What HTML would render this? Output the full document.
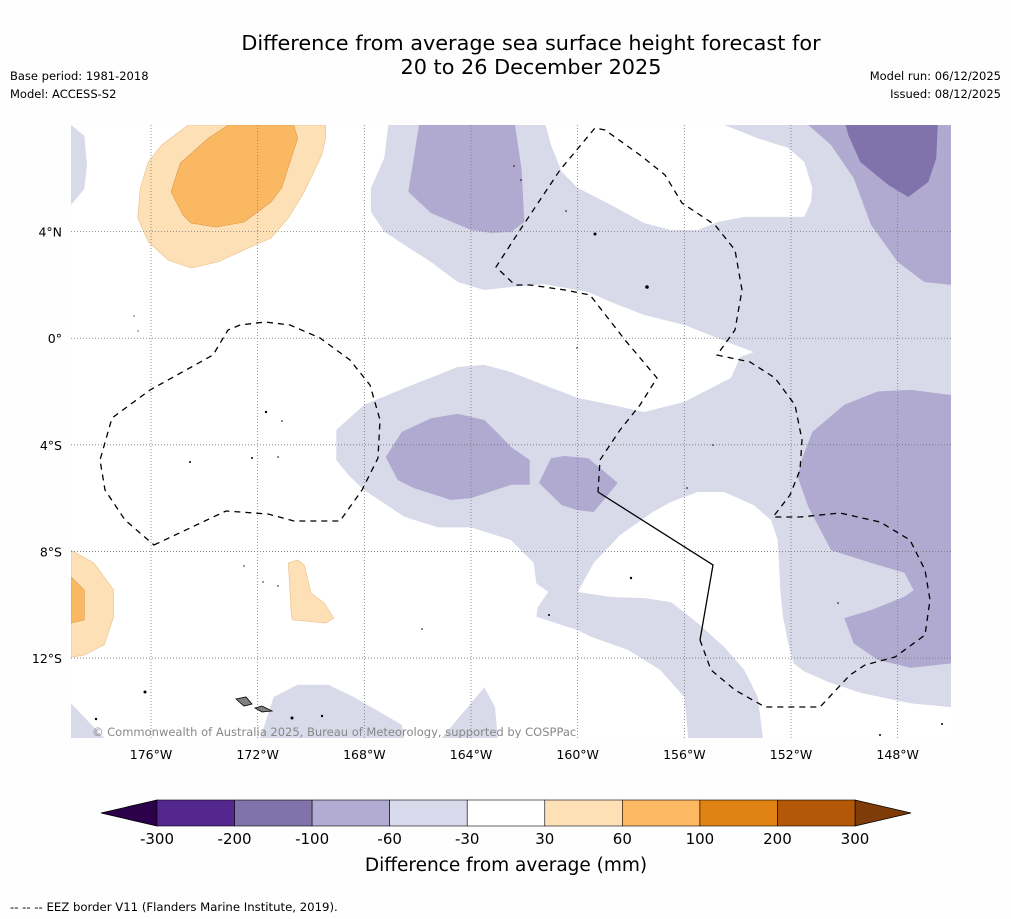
<!DOCTYPE html>
<html><head><meta charset="utf-8">
<style>
body{margin:0;background:#fff;width:1011px;height:919px;overflow:hidden;font-family:"DejaVu Sans","Liberation Sans",sans-serif;}
svg{position:absolute;left:0;top:0;font-family:"DejaVu Sans","Liberation Sans",sans-serif;}
</style></head>
<body>
<svg id="chart" width="1011" height="919" xmlns="http://www.w3.org/2000/svg">
<rect x="0" y="0" width="1011" height="919" fill="#fefefe"/>
<text x="531" y="50" font-size="20.8" text-anchor="middle" fill="#000">Difference from average sea surface height forecast for</text>
<text x="531" y="74" font-size="20.8" text-anchor="middle" fill="#000">20 to 26 December 2025</text>
<text x="10" y="80" font-size="11.5" fill="#000">Base period: 1981-2018</text>
<text x="10" y="98" font-size="11.5" fill="#000">Model: ACCESS-S2</text>
<text x="1001" y="80" font-size="11.5" text-anchor="end" fill="#000">Model run: 06/12/2025</text>
<text x="1001" y="98" font-size="11.5" text-anchor="end" fill="#000">Issued: 08/12/2025</text>
<defs><clipPath id="mapclip"><rect x="71" y="125" width="880" height="613"/></clipPath></defs>
<g id="map" clip-path="url(#mapclip)">
<rect x="71" y="125" width="880" height="613" fill="#fff"/>
<g id="fields"></g>
<g id="grid"></g>
<path d="M154,545 L226,511 L268,514 L294,521 L340,521 L362,490 L378,458 L380,420 L370,385 L350,360 L320,338 L290,325 L265,322 L240,325 L228,330 L213,355 L150,390 L112,418 L100,460 L105,490 L125,520 Z" fill="none" stroke="#000" stroke-width="1.3" stroke-dasharray="6,5"/>
<path d="M700,640 L711,670 L735,690 L765,707 L820,707 L850,675 L865,665 L895,657 L925,635 L930,600 L925,570 L910,540 L880,522 L840,513 L800,517 L773,517 L790,495 L800,470 L802,440 L795,405 L775,378 L750,362 L717,355 L735,330 L742,290 L735,250 L715,225 L682,203 L665,175 L640,155 L605,130 L595,128 L560,170 L520,230 L496,267 L515,285 L530,285 L565,290 L590,295 L625,340 L657,378 L640,405 L620,430 L600,460 L598,492" fill="none" stroke="#000" stroke-width="1.3" stroke-dasharray="6,5"/>
<path d="M598,492 L713,565 L700,640" fill="none" stroke="#000" stroke-width="1.3"/>
<path d="M236,699 L246,697 L252,704 L244,706 Z M255,708 L262,706 L272,711 L262,712 Z" fill="#808080" stroke="#000" stroke-width="0.8"/>
<g fill="#000">
<circle cx="266" cy="412" r="1.2"/><circle cx="190" cy="462" r="1"/><circle cx="252" cy="458" r="1"/><circle cx="278" cy="457" r="0.8"/><circle cx="282" cy="421" r="0.8"/><circle cx="595" cy="234" r="1.5"/><circle cx="647" cy="287" r="1.8"/><circle cx="514" cy="166" r="0.8"/><circle cx="521" cy="180" r="0.8"/><circle cx="566" cy="211" r="0.8"/><circle cx="577" cy="348" r="0.7"/><circle cx="713" cy="445" r="0.8"/><circle cx="687" cy="488" r="0.8"/><circle cx="631" cy="578" r="1.2"/><circle cx="549" cy="615" r="1"/><circle cx="838" cy="603" r="0.8"/><circle cx="422" cy="629" r="0.8"/><circle cx="145" cy="692" r="1.5"/><circle cx="96" cy="719" r="1.2"/><circle cx="292" cy="718" r="1.5"/><circle cx="322" cy="716" r="1.2"/><circle cx="244" cy="566" r="0.7"/><circle cx="263" cy="582" r="0.7"/><circle cx="278" cy="586" r="0.7"/><circle cx="134" cy="316" r="0.6"/><circle cx="138" cy="331" r="0.6"/><circle cx="880" cy="735" r="1"/><circle cx="942" cy="724" r="1"/>
</g>
<text x="92" y="736" font-size="11.5" fill="#888">© Commonwealth of Australia 2025, Bureau of Meteorology, supported by COSPPac</text>
</g>
<g id="axes"></g>
<g id="colorbar"></g>
<text x="506" y="871" font-size="18.5" text-anchor="middle" fill="#000">Difference from average (mm)</text>
<text x="10" y="911" font-size="11.7" fill="#000">--  --  -- EEZ border V11 (Flanders Marine Institute, 2019).</text>
</svg>
<script>
// ---- colour scale data ----
const levels = [-300,-200,-100,-60,-30,30,60,100,200,300];
const boxColors = ["#54278f","#8073ac","#b2abd2","#d8daeb","#ffffff","#fee0b6","#fdb863","#e08214","#b35806"];
const extendLowColor = "#2d004b";
const extendHighColor = "#7f3b08";
// ---- axis ticks ----
const lonTicks = [-176,-172,-168,-164,-160,-156,-152,-148];
const latTicks = [4,0,-4,-8,-12];
// ---- contour field polygons (lon, lat) ----
const lightRegions = [
 [[-167.1,8],[-161.2,8],[-161.0,7.25],[-160.6,6.24],[-160.0,5.64],[-158.75,5.0],[-157.5,4.32],[-156.5,4.06],[-155.5,4.06],[-154.75,4.36],[-153.75,4.55],[-151.5,4.55],[-151.25,5.11],[-151.2,5.64],[-151.5,6.61],[-152.1,7.14],[-153.25,7.5],[-154.5,8],[-146,8],[-146,-13.84],[-147.5,-13.7],[-149.4,-13.3],[-150.6,-12.9],[-151.5,-12.5],[-151.9,-12.2],[-152.1,-11.45],[-152.3,-10.45],[-152.4,-9.45],[-152.45,-8.45],[-152.5,-7.57],[-152.75,-6.82],[-153.4,-6.26],[-154.5,-5.77],[-155.5,-5.77],[-156.5,-6.14],[-157.25,-6.56],[-158.4,-7.38],[-159.4,-8.43],[-160.0,-9.52],[-158.75,-9.71],[-157.5,-9.75],[-156.5,-9.9],[-155.5,-10.69],[-154.5,-11.59],[-153.75,-12.45],[-153.25,-13.46],[-153.05,-15],[-155.85,-15],[-156.0,-13.46],[-156.9,-12.45],[-158.1,-11.7],[-159.5,-11.2],[-160.0,-10.95],[-161.55,-10.45],[-161.5,-10.1],[-161.1,-9.52],[-161.55,-9.2],[-161.65,-8.43],[-162.5,-7.57],[-164,-7.1],[-165.25,-7.1],[-166.5,-6.7],[-168,-5.7],[-168.6,-5.13],[-169.05,-4.57],[-169.05,-3.44],[-168,-2.5],[-166.5,-1.87],[-165.25,-1.38],[-164.5,-1.08],[-163.5,-1.0],[-162.5,-1.27],[-161.25,-1.76],[-160,-2.24],[-158.75,-2.5],[-157.5,-2.77],[-156,-2.39],[-155,-1.87],[-154.25,-1.49],[-153.9,-0.7],[-153.4,-0.52],[-154.75,0.0],[-156,0.5],[-157.5,0.87],[-158.75,1.36],[-159.6,1.73],[-161.25,2.03],[-162.5,1.92],[-163.5,1.81],[-164.5,2.11],[-165.5,2.86],[-166.5,3.5],[-167.25,4.0],[-167.75,4.74],[-167.75,5.64],[-167.25,6.76]],
 [[-179,8],[-178.5,7.6],[-178.4,6.5],[-178.5,5.6],[-179,5]],
 [[-179,-13.7],[-177.75,-15],[-179,-15]],
 [[-171.9,-15],[-171.4,-13.46],[-170.5,-13.0],[-169.35,-13.0],[-168.4,-13.46],[-166.6,-14.5],[-166.5,-15]],
 [[-165.1,-15],[-163.5,-13.1],[-163.1,-13.84],[-163.0,-15]]
];
const mediumRegions = [
 [[-165.95,8],[-166.35,5.49],[-165.5,4.7],[-164,4.06],[-163.25,3.95],[-162.5,3.98],[-162.0,4.36],[-162.1,6.31],[-162.35,8]],
 [[-151.35,8],[-150.5,7.25],[-149.65,6.0],[-149,4.25],[-148,2.86],[-147.0,2.11],[-146,2.0],[-146,8]],
 [[-167.2,-4.46],[-166.6,-3.52],[-165.5,-3.0],[-164.5,-2.84],[-163.5,-3.07],[-163.0,-3.56],[-162.5,-4.08],[-161.8,-4.57],[-161.8,-5.5],[-162.5,-5.5],[-164,-6.0],[-164.75,-6.07],[-166.15,-5.62],[-166.75,-5.32]],
 [[-161.45,-5.43],[-161,-4.5],[-160.5,-4.42],[-159.6,-4.5],[-158.5,-5.43],[-159.4,-6.52],[-160,-6.45],[-160.6,-6.26]],
 [[-146,-2.13],[-147.5,-1.94],[-148.75,-2.0],[-150.0,-2.5],[-151.2,-3.52],[-151.6,-4.57],[-151.75,-5.2],[-151.35,-6.33],[-150.5,-7.95],[-149,-8.43],[-147.75,-8.8],[-147.4,-9.45],[-147.75,-9.7],[-149,-10.2],[-150,-10.5],[-149.65,-11.45],[-148.75,-12.07],[-147.5,-12.37],[-146,-12.2]]
];
const darkRegions = [
 [[-149.95,8],[-149.85,7.62],[-149.4,6.61],[-148.35,5.75],[-147.6,5.3],[-146.85,5.86],[-146.55,6.76],[-146.5,8]]
];
const lightOrangeRegions = [
 [[-174.6,8],[-175.6,7.25],[-176.1,6.61],[-176.4,5.64],[-176.5,4.51],[-176.1,3.61],[-175.35,2.93],[-174.5,2.63],[-173.5,2.86],[-172.35,3.38],[-171.5,3.76],[-170.85,4.51],[-170.25,5.49],[-169.6,6.87],[-169.45,7.5],[-169.45,8]],
 [[-179,-7.95],[-178.15,-8.43],[-177.4,-9.45],[-177.4,-10.45],[-177.75,-11.5],[-178.5,-11.89],[-179,-11.97]],
 [[-170.85,-8.43],[-170.5,-8.32],[-170.25,-8.51],[-170,-9.56],[-169.5,-9.94],[-169.15,-10.5],[-169.45,-10.69],[-170.7,-10.57],[-170.75,-10.2]]
];
const orangeRegions = [
 [[-173.1,8],[-173.85,7.5],[-174.9,6.57],[-175.25,5.49],[-174.8,4.62],[-174.5,4.32],[-173.55,4.17],[-172.5,4.36],[-171.5,5.11],[-171.1,5.64],[-170.5,7.5],[-170.65,8]],
 [[-179,-8.96],[-178.5,-9.45],[-178.5,-10.57],[-179,-10.69]]
];

const NS="http://www.w3.org/2000/svg";
const lonMin=-179, lonMax=-146, latMin=-15, latMax=8;
const mapX0=71, mapX1=951, mapY0=125, mapY1=738;
function xScale(lon){return mapX0+(lon-lonMin)/(lonMax-lonMin)*(mapX1-mapX0);}
function yScale(lat){return mapY0+(latMax-lat)/(latMax-latMin)*(mapY1-mapY0);}
function mk(tag,attrs,parent){const e=document.createElementNS(NS,tag);for(const k in attrs)e.setAttribute(k,attrs[k]);parent.appendChild(e);return e;}

const fields=document.getElementById('fields');
function drawRegions(list,fill,stroke,name){
  list.forEach(function(poly){
    const d=poly.map(function(p,i){return (i?'L':'M')+xScale(p[0]).toFixed(1)+','+yScale(p[1]).toFixed(1);}).join(' ')+' Z';
    const el=mk('path',{d:d,fill:fill,stroke:stroke,'stroke-width':stroke==='none'?0:0.6},fields);
    
    
  });
}
drawRegions(lightRegions,'#d8d9e9','none','contour-60-to-30');
drawRegions(mediumRegions,'#b0a9d0','none','contour-100-to-60');
drawRegions(darkRegions,'#8073ab','none','contour-200-to-100');
drawRegions(lightOrangeRegions,'#fde0b6','#e8c08a','contour-30-to-60');
drawRegions(orangeRegions,'#fbb862','#dc9a50','contour-60-to-100');

const grid=document.getElementById('grid');
const axes=document.getElementById('axes');
lonTicks.forEach(function(lon){
  const x=xScale(lon);
  const l=mk('line',{x1:x,y1:mapY0,x2:x,y2:mapY1,stroke:'#777','stroke-width':0.8,'stroke-dasharray':'1,2'},grid);
  
  
  const t=mk('text',{x:x,y:759,'font-size':12.5,'text-anchor':'middle',fill:'#000'},axes);
  t.textContent=Math.abs(lon)+'°W';
  
  
});
latTicks.forEach(function(lat){
  const y=yScale(lat);
  const l=mk('line',{x1:mapX0,y1:y,x2:mapX1,y2:y,stroke:'#777','stroke-width':0.8,'stroke-dasharray':'1,2'},grid);
  
  
  const t=mk('text',{x:62,y:y+5,'font-size':12.5,'text-anchor':'end',fill:'#000'},axes);
  t.textContent=lat===0?'0°':(Math.abs(lat)+'°'+(lat>0?'N':'S'));
  
  
});

// colorbar
const cb=document.getElementById('colorbar');
const cbX0=157, cbX1=855, cbY=800, cbH=26, triW=56;
const nBox=boxColors.length, bw=(cbX1-cbX0)/nBox;
function cbx(i){return cbX0+i*bw;}
const lowTri=mk('path',{d:'M'+cbX0+','+cbY+' L'+(cbX0-triW)+','+(cbY+cbH/2)+' L'+cbX0+','+(cbY+cbH)+' Z',fill:extendLowColor,stroke:'#000','stroke-width':0.8},cb);


const hiTri=mk('path',{d:'M'+cbX1+','+cbY+' L'+(cbX1+triW)+','+(cbY+cbH/2)+' L'+cbX1+','+(cbY+cbH)+' Z',fill:extendHighColor,stroke:'#000','stroke-width':0.8},cb);


boxColors.forEach(function(c,i){
  const r=mk('rect',{x:cbx(i),y:cbY,width:bw,height:cbH,fill:c,stroke:'#000','stroke-width':0.6},cb);
  
  
});
levels.forEach(function(v,i){
  const t=mk('text',{x:cbx(i),y:844,'font-size':15,'text-anchor':'middle',fill:'#000'},cb);
  t.textContent=v;
  
  
});
</script>
</body></html>
